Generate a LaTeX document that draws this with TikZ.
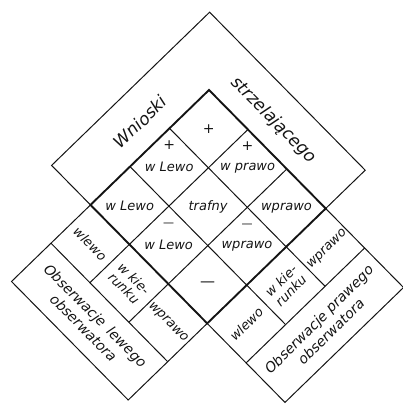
\documentclass[tikz,border=0pt]{standalone}
\usepackage{fontspec}
\setmainfont{DejaVu Sans}
\usepackage{tikz}
\usetikzlibrary{calc}
\definecolor{cInk}{RGB}{20,20,20}

\begin{document}
\begin{tikzpicture}[x=1pt, y=-1pt,
    rule/.style={cInk, line width=1pt},
    border/.style={cInk, line width=1.9pt},
    word/.style={cInk, font=\fontsize{13}{14}\selectfont\itshape, inner sep=1pt},
    sign/.style={cInk, font=\fontsize{14}{15}\selectfont, inner sep=0pt},
    band/.style={cInk, font=\fontsize{14}{17}\selectfont\itshape, align=center, inner sep=1pt},
    title/.style={cInk, font=\fontsize{17}{19}\selectfont\itshape, inner sep=1pt}]
  \useasboundingbox (0,0) rectangle (403,406);
  \begin{scope}[shift={(209,90)}, x={(38.9pt,-39.5pt)}, y={(-39.5pt,-38.3pt)}]
  % Wnioski strzelajacego
  \draw[rule] (3,0) -- (3,-1) -- (-1,-1) -- (-1,3) -- (0,3);
  \node[title, rotate=44] (wnioski) at (-0.45,1.3) {Wnioski};
  \node[title, rotate=-45] (strzel) at (1.2,-0.45) {strzelającego};
  % inner grid
  \foreach \k in {1,2} {
    \draw[rule] (\k,0) -- (\k,3);
    \draw[rule] (0,\k) -- (3,\k);
  }
  \node[sign] (pTop) at (0.5,0.5) {+};
  \node[sign, yshift=22pt] (pLeft) at (0.5,1.5) {+};
  \node[word] (wLeftTop) at (0.5,1.5) {w Lewo};
  \node[sign, yshift=22pt] (pRight) at (1.5,0.5) {+};
  \node[word] (wRightTop) at (1.5,0.5) {w prawo};
  \node[word] (wLeftMid) at (0.5,2.5) {w Lewo};
  \node[word] (trafny) at (1.5,1.5) {trafny};
  \node[word] (wRightMid) at (2.5,0.5) {wprawo};
  \node[sign, font=\fontsize{11}{12}\selectfont, yshift=20pt] (mLeft) at (1.5,2.5) {—};
  \node[word] (wLeftLow) at (1.5,2.5) {w Lewo};
  \node[sign, font=\fontsize{11}{12}\selectfont, yshift=20pt] (mRight) at (2.5,1.5) {—};
  \node[word] (wRightLow) at (2.5,1.5) {wprawo};
  \node[sign, font=\fontsize{15}{16}\selectfont] (mBottom) at (2.5,2.5) {—};
  % left observer
  \draw[rule] (0,3) -- (0,5) -- (3,5) -- (3,3);
  \draw[rule] (0,4) -- (3,4);
  \foreach \k in {1,2} \draw[rule] (\k,3) -- (\k,4);
  \node[word, rotate=-45] (lLewo) at (0.5,3.5) {wlewo};
  \node[word, rotate=-45, align=center] (lKier) at (1.5,3.5) {w kie-\\runku};
  \node[word, rotate=-45] (lPrawo) at (2.5,3.5) {wprawo};
  \node[band, rotate=-45] (lObs) at (1.5,4.5) {Obserwacje\enspace lewego\\obserwatora};
  % right observer
  \draw[rule] (3,0) -- (5,0) -- (5,3) -- (3,3);
  \draw[rule] (4,0) -- (4,3);
  \foreach \k in {1,2} \draw[rule] (3,\k) -- (4,\k);
  \node[word, rotate=45] (rPrawo) at (3.55,0.5) {wprawo};
  \node[word, rotate=45, align=center] (rKier) at (3.5,1.5) {w kie-\\runku};
  \node[word, rotate=45] (rLewo) at (3.5,2.5) {wlewo};
  \node[band, rotate=45] (rObs) at (4.5,1.5) {Obserwacje prawego\\obserwatora};
  % inner border on top
  \draw[border] (0,0) -- (3,0) -- (3,3) -- (0,3) -- cycle;
  \end{scope}
\end{tikzpicture}
\end{document}
